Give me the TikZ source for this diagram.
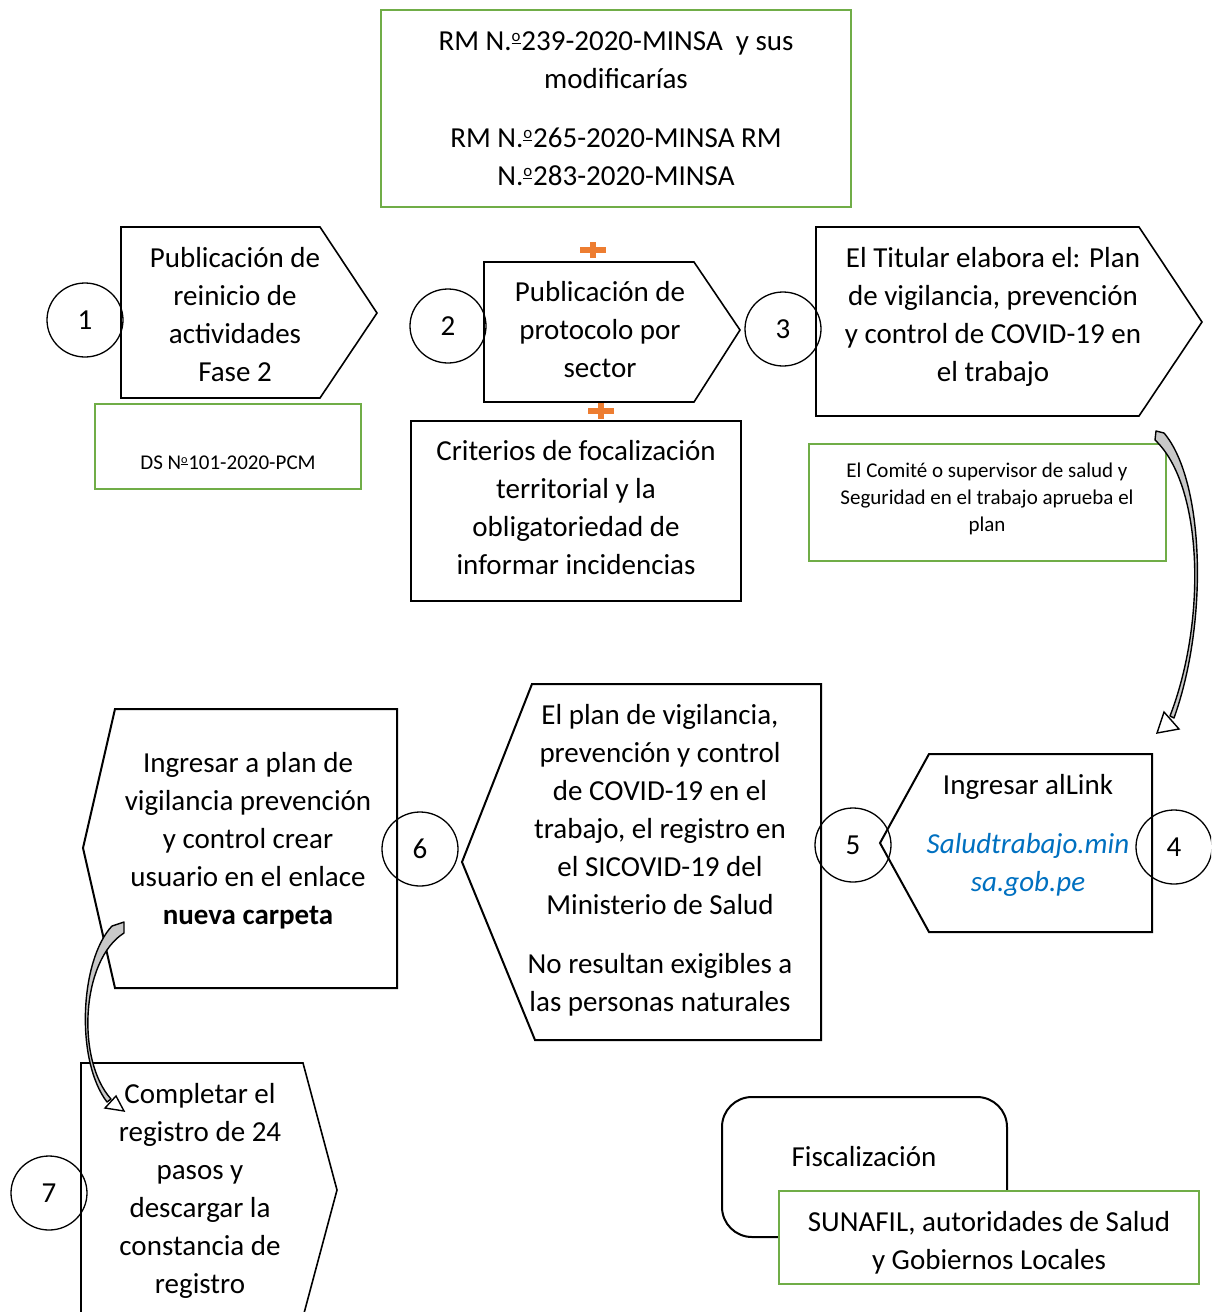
\documentclass[tikz,border=0pt]{standalone}
\usepackage{fontspec}
\setmainfont{Carlito}
\usetikzlibrary{shapes.geometric}
\definecolor{grn}{HTML}{70AD47}
\definecolor{org}{HTML}{ED7D31}
\definecolor{lnk}{HTML}{0070C0}
\definecolor{arrgray}{HTML}{C8C8C8}
\newcommand{\ordo}{\raisebox{0.3em}{\fontsize{0.58em}{0.58em}\selectfont\underline{o}}\kern0.03em}
\begin{document}
\begin{tikzpicture}[x=1pt,y=-1pt,
  txt/.style={align=center,font=\fontsize{29}{38}\selectfont,inner sep=0pt,
    execute at begin node=\strut,execute at end node=\strut},
  smalltxt/.style={align=center,font=\fontsize{21}{27}\selectfont,inner sep=0pt,
    execute at begin node=\strut,execute at end node=\strut},
  grnbox/.style={draw=grn,line width=2.5pt,fill=white},
  shp/.style={draw=black,line width=1.6pt,line join=miter},
  shpthick/.style={draw=black,line width=2.2pt,line join=miter},
  num/.style={draw=black,line width=1.3pt,ellipse,minimum width=76pt,minimum height=74pt,
    inner sep=0pt,font=\fontsize{29}{38}\selectfont},
  plusbar/.style={fill=org},
  blockarrow/.style={fill=arrgray,draw=black,line width=1.4pt,line join=round},
  arrowhd/.style={fill=white,draw=black,line width=1.4pt,line join=miter}
]
\useasboundingbox (0,0) rectangle (1211,1312);
\clip (0,0) rectangle (1211,1312);

% ---- top legal box
\draw[grnbox] (381,10) rectangle (851,207);
\node[txt] (legal) at (616,114) {RM N.\ordo239-2020-MINSA~ y sus\\modificarías\\[21pt]RM N.\ordo265-2020-MINSA RM\\N.\ordo283-2020-MINSA};

% ---- step 1
\draw[shp] (121,227) -- (320,227) -- (377,313) -- (320,398) -- (121,398) -- cycle;
\node[txt] (s1) at (235,320) {Publicación de\\reinicio de\\actividades\\Fase 2};
\node[num] (c1) at (85,320) {1};
\draw[grnbox] (95,404) rectangle (361,489);
\node[smalltxt] (ds) at (228,464) {DS N\ordo101-2020-PCM};

% ---- step 2
\draw[shp] (484,262) -- (694,262) -- (740,330) -- (694,402) -- (484,402) -- cycle;
\node[txt] (s2) at (600,335) {Publicación de\\protocolo por\\sector};
\node[num] (c2) at (448,326) {2};
\fill[plusbar] (580,247) rectangle (606,253);
\fill[plusbar] (590,242) rectangle (596,258);
\fill[plusbar] (588,408) rectangle (614,414);
\fill[plusbar] (598,403) rectangle (604,419);
\draw[shpthick] (411,421) rectangle (741,601);
\node[txt] (crit) at (576,513) {Criterios de focalización\\territorial y la\\obligatoriedad de\\informar incidencias};

% ---- step 3
\draw[shp] (816,227) -- (1139,227) -- (1202,322) -- (1139,416) -- (816,416) -- cycle;
\node[txt] (s3) at (993,320) {El Titular elabora el: Plan\\de vigilancia, prevención\\y control de COVID-19 en\\el trabajo};
\node[num] (c3) at (783,329) {3};
\draw[grnbox] (809,444) rectangle (1166,561);
\node[smalltxt] (comite) at (987,501) {El Comité o supervisor de salud y\\Seguridad en el trabajo aprueba el\\plan};

% ---- step 4/5
\draw[shp,line width=2pt] (929,754) -- (1152,754) -- (1152,932) -- (929,932) -- (880,843) -- cycle;
\node[txt] (s4) at (1028,839) {Ingresar alLink\\[21pt]\textcolor{lnk}{\itshape Saludtrabajo.min}\\\textcolor{lnk}{\itshape sa.gob.pe}};
\node[num] (c5) at (853,845) {5};
\node[num] (c4) at (1174,847) {4};

% ---- big plan shape
\draw[shp,line width=2pt] (532,684) -- (821,684) -- (821,1040) -- (535,1040) -- (462,862) -- cycle;
\node[txt] (plan) at (660,864) {El plan de vigilancia,\\prevención y control\\de COVID-19 en el\\trabajo, el registro en\\el SICOVID-19 del\\Ministerio de Salud\\[21pt]No resultan exigibles a\\las personas naturales};

% ---- step 6
\draw[shp,line width=2pt] (115,709) -- (397,709) -- (397,988) -- (115,988) -- (83,848) -- cycle;
\node[txt] (s6) at (248,844) {Ingresar a plan de\\vigilancia prevención\\y control crear\\usuario en el enlace\\\textbf{nueva carpeta}};
\node[num] (c6) at (420,849) {6};

% ---- step 7
\draw[shp] (81,1063) -- (303,1063) -- (337,1190) -- (303,1317) -- (81,1317) -- cycle;
\node[txt] (s7) at (200,1194) {Completar el\\registro de 24\\pasos y\\descargar la\\constancia de\\registro};
\node[num] (c7) at (49,1193) {7};

% ---- fiscalizacion
\draw[draw=black,line width=2pt,rounded corners=30pt] (722,1097) rectangle (1007,1237);
\node[txt] (fisc) at (864,1159) {Fiscalización};
\draw[grnbox] (779,1191) rectangle (1199,1284);
\node[txt] (sunafil) at (989,1246) {SUNAFIL, autoridades de Salud\\y Gobiernos Locales};

% ---- curved block arrows
\coordinate (a1s) at (1160,434);
\coordinate (a1e) at (1157,733);
\draw[blockarrow] (1156,431) -- (1164,433) .. controls (1204,480) and (1209,620) .. (1174,718)
   -- (1170,716) .. controls (1207,620) and (1203,485) .. (1155,440) -- cycle;
\draw[arrowhd] (1164,712) -- (1179,729) -- (a1e) -- cycle;

\coordinate (a2s) at (118,926);
\coordinate (a2e) at (124,1111);
\draw[blockarrow] (124,922) -- (124,933) .. controls (81,960) and (76,1060) .. (111,1099)
   -- (107,1102) .. controls (75,1060) and (80,960) .. (112,926) -- cycle;
\draw[arrowhd] (116,1096) -- (a2e) -- (105,1108) -- cycle;
\end{tikzpicture}
\end{document}
